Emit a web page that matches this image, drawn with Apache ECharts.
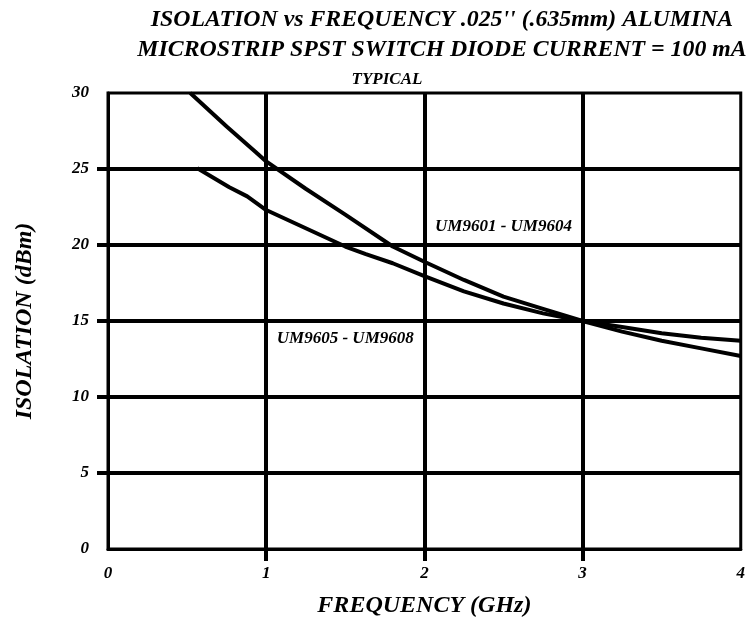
<!DOCTYPE html>
<html><head><meta charset="utf-8">
<script src="https://cdn.jsdelivr.net/npm/echarts@6/dist/echarts.min.js"></script>
<style>html,body{margin:0;padding:0;background:#fff}#c{width:748px;height:625px}</style>
</head><body><div id="c"></div>
<script>
const titleLines = ["ISOLATION vs FREQUENCY .025'' (.635mm) ALUMINA", "MICROSTRIP SPST SWITCH DIODE CURRENT = 100 mA"];
const subTitle = "TYPICAL";
const xName = "FREQUENCY (GHz)";
const yName = "ISOLATION (dBm)";
const xTicks = [0, 1, 2, 3, 4];
const yTicks = [0, 5, 10, 15, 20, 25, 30];
const seriesNames = ["UM9601 - UM9604", "UM9605 - UM9608"];
const freqA = [0.52, 0.75, 0.935, 1.0, 1.25, 1.5, 1.8, 2.0, 2.25, 2.5, 2.75, 3.0, 3.25, 3.5, 3.75, 4.0];
const isoA  = [30, 27.8, 26.1, 25.5, 23.7, 22.0, 19.9, 18.9, 17.7, 16.6, 15.8, 15.0, 14.3, 13.7, 13.2, 12.7];
const freqB = [0.565, 0.767, 0.88, 1.0, 1.5, 1.63, 1.8, 2.0, 2.25, 2.5, 2.75, 3.0, 3.25, 3.5, 3.75, 4.0];
const isoB  = [25.05, 23.8, 23.2, 22.3, 19.9, 19.4, 18.8, 17.95, 16.95, 16.15, 15.5, 15.0, 14.6, 14.2, 13.9, 13.7];
const labelPosA = [2.5, 21.2];
const labelPosB = [1.5, 13.85];

const FONT = "'Liberation Serif', 'Times New Roman', serif";
const txt = (size) => ({fontFamily: FONT, fontWeight: 'bold', fontStyle: 'italic', fontSize: size, color: '#000'});

const chart = echarts.init(document.getElementById('c'), null, {renderer: 'canvas'});
const mkSeries = (name, xs, ys, pos) => ({
  name, type: 'line', data: xs.map((x, i) => [x, ys[i]]),
  symbol: 'none', smooth: false, lineStyle: {color: '#000', width: 4}, z: 5,
  markPoint: {symbol: 'circle', symbolSize: 0, silent: true,
    data: [{coord: pos, label: {show: true, formatter: name, ...txt(17), position: 'inside'}}]}
});
chart.setOption({
  animation: false,
  title: [
    {text: titleLines.join('\n'), left: 442, top: 5, padding: 0, textAlign: 'center', textStyle: {...txt(23.8), lineHeight: 30}},
    {text: subTitle, left: 387, top: 71, padding: 0, textAlign: 'center', textStyle: txt(17)}
  ],
  grid: {left: 108, right: 6, top: 93, bottom: 76, show: true, borderColor: '#000', borderWidth: 3, backgroundColor: 'transparent'},
  xAxis: {type: 'value', min: 0, max: 4, interval: 1,
    name: xName, nameLocation: 'middle', nameGap: 45, nameMoveOverlap: false, nameTextStyle: txt(24),
    axisLine: {show: true, lineStyle: {color: '#000', width: 3}},
    axisTick: {show: true, length: 12, lineStyle: {color: '#000', width: 4}, customValues: [1, 2, 3]},
    axisLabel: {margin: 16, ...txt(17), customValues: xTicks},
    splitLine: {show: true, lineStyle: {color: '#000', width: 4}}
  },
  yAxis: {type: 'value', min: 0, max: 30, interval: 5,
    name: yName, nameLocation: 'middle', nameGap: 71, nameMoveOverlap: false, nameTextStyle: txt(24),
    axisLine: {show: true, lineStyle: {color: '#000', width: 3}},
    axisTick: {show: true, length: 11, lineStyle: {color: '#000', width: 4}, customValues: [5, 10, 15, 20, 25]},
    axisLabel: {margin: 19, ...txt(17), customValues: yTicks, padding: [4, 0, 0, 0]},
    splitLine: {show: true, lineStyle: {color: '#000', width: 4}}
  },
  series: [mkSeries(seriesNames[0], freqA, isoA, labelPosA), mkSeries(seriesNames[1], freqB, isoB, labelPosB)]
});
</script></body></html>
